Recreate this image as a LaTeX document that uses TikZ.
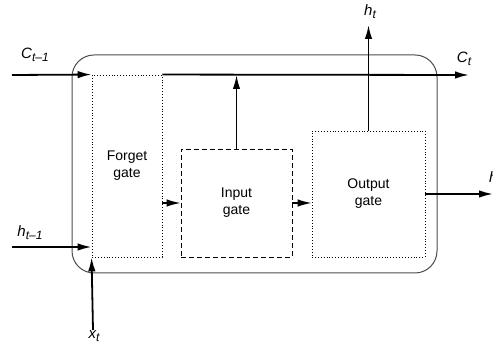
\documentclass[tikz,border=0pt]{standalone}
\usepackage{fontspec}
\setmainfont{Liberation Sans}
\usetikzlibrary{arrows.meta}
\newcommand{\lowsub}[1]{\raisebox{-0.35ex}{\fontsize{12}{14}\selectfont #1}}
\tikzset{
  gatebox/.style={draw,line width=0.9pt,inner sep=0pt,align=center,font=\fontsize{14}{17}\selectfont},
  flow/.style={line width=1.8pt,-{Latex[length=14pt,width=7.5pt]}},
  sig/.style={inner sep=1pt,font=\fontsize{15}{17}\selectfont\itshape}
}
\begin{document}
\begin{tikzpicture}[x=1pt,y=1pt]
        \useasboundingbox(0,0)rectangle(493,345);
        % cell outline
        \draw[rounded corners=22pt,line width=1pt,black!70](72,72)rectangle(437,290);
        % gates
        \node[gatebox,dotted,minimum width=70pt,minimum height=182pt](forget)at(127,179){Forget\\gate};
        \node[gatebox,dash pattern=on 5pt off 3pt,minimum width=111pt,minimum height=108pt](input)at(236.5,142){Input\\gate};
        \node[gatebox,dotted,minimum width=113pt,minimum height=126pt](output)at(368.5,151){Output\\gate};
        % free ends
        \coordinate(cin)at(12,270);
        \coordinate(cout)at(469,270);
        \coordinate(hin)at(12,98);
        \coordinate(xin)at(93,15);
        \coordinate(hup)at(368.5,320);
        \coordinate(hright)at(493,151);
        % cell state
        \draw[flow](cin)--(forget.north west);
        \draw[flow](forget.north east)--(cout);
        \draw[flow](input.north)--(input.north|-cout);
        % inputs
        \draw[flow](hin)--(forget.west|-hin);
        \draw[flow](xin)--(forget.south west);
        % between gates
        \draw[flow,line width=1.3pt](forget.east|-input.west)--(input.west);
        \draw[flow,line width=1.3pt](input.east)--(output.west|-input.east);
        % outputs
        \draw[flow](output.north)--(hup);
        \draw[flow](output.east)--(hright);
        % labels
        \node[sig]at(35,290){C\lowsub{t–1}};
        \node[sig]at(30,112){h\lowsub{t–1}};
        \node[sig]at(94,9){x\lowsub{t}};
        \node[sig]at(370,333){h\lowsub{t}};
        \node[sig]at(464,286){C\lowsub{t}};
        \node[sig,anchor=west]at(488,166){h\lowsub{t}};
        \end{tikzpicture}
\end{document}
